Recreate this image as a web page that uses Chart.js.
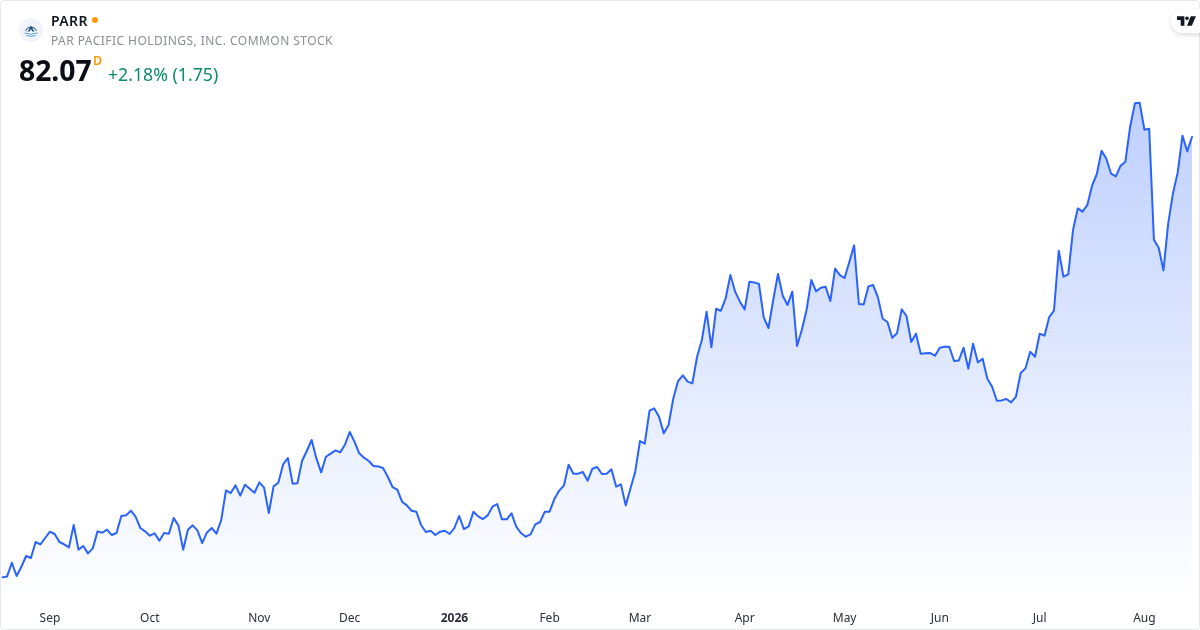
<!DOCTYPE html>
<html>
<head>
<meta charset="utf-8">
<title>PARR</title>
<script src="https://cdn.jsdelivr.net/npm/chart.js@4"></script>
<style>
    html, body { margin: 0; padding: 0; background: #fff; }
    body { width: 1200px; height: 630px; overflow: hidden; position: relative; font-family: "Noto Sans", sans-serif; }
    canvas { position: absolute; left: 0; top: 0; }
    .card { position: absolute; left: 0; top: 0; width: 1198px; height: 628px; border: 1px solid #e6e8ee; border-radius: 4px; }
    .txt { position: absolute; white-space: nowrap; line-height: 1; }
    #symbol { left: 51px; top: 14px; font-size: 14px; font-weight: 600; letter-spacing: 0.4px; color: #131722; }
    #name { left: 51px; top: 35px; font-size: 12px; letter-spacing: 0.45px; color: #8a8d96; }
    #price { left: 19px; top: 56px; font-size: 28.3px; font-weight: 700; color: #0c0e15; }
    #res { left: 93px; top: 55px; font-size: 12.5px; font-weight: 600; color: #ff9800; }
    #change { left: 108px; top: 66px; font-size: 17.7px; color: #0b8a6f; }
    .dot { position: absolute; left: 92px; top: 17px; width: 6px; height: 6px; border-radius: 50%; background: #ff9800; }
    .tv { position: absolute; left: 1171px; top: 9px; width: 40px; height: 24px; border-radius: 12px; background: #fff; box-shadow: 0 2px 5px rgba(0,0,0,0.14); }
</style>
</head>
<body>
<canvas id="priceChart" width="1200" height="630"></canvas>
<div class="card"></div>

<svg style="position:absolute;left:19px;top:18px" width="24" height="24" viewBox="0 0 24 24">
    <circle cx="12" cy="12" r="12" fill="#f0f3fa"/>
    <path d="M6.5 13 A5.8 5.8 0 0 1 17.5 13" fill="none" stroke="#1d4f7c" stroke-width="1"/>
    <path d="M12 7.5 L8.5 14 L10.8 13.2 L12 11 L13.2 13.2 L15.5 14 Z" fill="#1d4f7c"/>
    <path d="M5.5 15 Q12 17.5 18.5 15 M7.5 17.5 Q12 19.2 16.5 17.5" fill="none" stroke="#5aa5da" stroke-width="1"/>
</svg>
<div class="txt" id="symbol">PARR</div>
<div class="dot"></div>
<div class="txt" id="name">PAR PACIFIC HOLDINGS, INC. COMMON STOCK</div>
<div class="txt" id="price">82.07</div>
<div class="txt" id="res">D</div>
<div class="txt" id="change">+2.18% (1.75)</div>
<div class="tv">
    <svg style="position:absolute;left:6px;top:6.5px" width="19" height="11" viewBox="0 0 18 10">
        <path d="M0 0 H7 V9 H3.5 V3.5 H0 Z" fill="#131722"/>
        <circle cx="9.5" cy="2" r="1.7" fill="#131722"/>
        <path d="M13 0 H18 L14 9 H9.5 Z" fill="#131722"/>
    </svg>
</div>

<script>
const closes = [
    27.03, 27.15, 28.86, 27.20, 28.36, 29.70, 29.45, 31.45, 31.15, 31.95,
    32.74, 32.45, 31.45, 31.15, 30.78, 33.57, 30.49, 30.95, 30.03, 30.65,
    32.78, 32.61, 32.99, 32.32, 32.57, 34.70, 34.78, 35.36, 34.61, 33.20,
    32.78, 32.24, 32.53, 31.61, 32.57, 32.49, 34.45, 33.53, 30.49, 32.99,
    33.53, 32.90, 31.32, 32.65, 33.20, 32.49, 34.20, 37.90, 37.57, 38.53,
    37.24, 38.61, 38.11, 37.61, 38.90, 38.24, 35.07, 38.40, 38.86, 41.15,
    41.95, 38.74, 38.78, 41.61, 42.86, 44.20, 41.90, 40.15, 42.11, 42.49,
    42.90, 42.65, 43.61, 45.20, 43.99, 42.53, 41.99, 41.57, 40.95, 40.90,
    40.70, 39.61, 38.32, 37.99, 36.49, 36.03, 35.36, 35.24, 33.57, 32.70,
    32.86, 32.32, 32.74, 32.86, 32.45, 33.20, 34.70, 33.07, 33.40, 35.24,
    34.65, 34.32, 34.78, 35.86, 36.20, 34.28, 34.28, 35.03, 33.36, 32.57,
    32.11, 32.40, 33.65, 33.95, 35.24, 35.24, 36.82, 37.86, 38.49, 41.11,
    39.99, 39.99, 40.20, 39.11, 40.61, 40.82, 39.95, 39.99, 40.53, 38.36,
    38.65, 36.03, 38.15, 40.24, 44.07, 43.74, 47.86, 48.15, 47.11, 45.03,
    46.07, 49.40, 51.57, 52.28, 51.49, 51.28, 54.61, 56.70, 60.24, 55.78,
    60.61, 60.36, 61.90, 64.82, 62.74, 61.49, 60.53, 63.99, 63.90, 63.70,
    59.53, 58.20, 61.70, 64.95, 62.24, 61.07, 62.74, 55.95, 57.95, 60.45,
    64.20, 62.78, 63.24, 63.36, 61.57, 65.61, 64.82, 64.45, 66.49, 68.53,
    61.20, 61.15, 63.40, 63.57, 62.03, 59.36, 58.95, 56.99, 57.53, 60.53,
    59.70, 56.45, 57.49, 54.99, 55.03, 55.07, 54.74, 55.74, 55.86, 55.86,
    54.07, 54.15, 55.74, 53.11, 56.24, 53.90, 54.36, 51.86, 50.86, 49.11,
    49.15, 49.32, 48.90, 49.61, 52.57, 53.15, 55.24, 54.61, 57.49, 57.24,
    59.57, 60.36, 67.86, 64.61, 64.90, 70.45, 73.15, 72.74, 73.57, 75.99,
    77.45, 80.36, 79.36, 77.49, 77.15, 78.49, 78.99, 83.36, 86.28, 86.36,
    82.99, 83.11, 69.24, 68.24, 65.40, 71.28, 75.03, 77.65, 82.24, 80.28,
    82.07
];
const tickLabels = ['Sep', 'Oct', 'Nov', 'Dec', '2026', 'Feb', 'Mar', 'Apr', 'May', 'Jun', 'Jul', 'Aug'];
const tickBars = [10, 31, 54, 73, 95, 115, 134, 156, 177, 197, 218, 240];

const ctx = document.getElementById('priceChart');

new Chart(ctx, {
    type: 'line',
    data: {
        labels: closes.map((_, i) => i),
        datasets: [{
            data: closes,
            borderColor: '#2962ff',
            borderWidth: 2,
            borderJoinStyle: 'round',
            borderCapStyle: 'round',
            pointRadius: 0,
            tension: 0,
            fill: 'start',
            backgroundColor: (c) => {
                const area = c.chart.chartArea;
                if (!area) return 'transparent';
                const g = c.chart.ctx.createLinearGradient(0, 100, 0, area.bottom);
                g.addColorStop(0, 'rgba(41, 98, 255, 0.3)');
                g.addColorStop(1, 'rgba(41, 98, 255, 0)');
                return g;
            }
        }]
    },
    options: {
        responsive: false,
        animation: false,
        events: [],
        layout: { autoPadding: false, padding: { left: 2.33, right: 8, top: 90, bottom: 0 } },
        plugins: { legend: { display: false }, tooltip: { enabled: false } },
        scales: {
            x: {
                grid: { display: false, drawTicks: false },
                border: { display: false },
                afterFit: (scale) => {
                    scale.height = 30;
                    scale.paddingLeft = 0;
                    scale.paddingRight = 0;
                },
                ticks: {
                    autoSkip: false,
                    maxRotation: 0,
                    minRotation: 0,
                    padding: 11,
                    color: '#2a2e39',
                    font: (c) => ({
                        family: '"Noto Sans", sans-serif',
                        size: 12,
                        weight: c.tick && c.tick.label === '2026' ? '700' : '400'
                    }),
                    callback: (v, i) => {
                        const k = tickBars.indexOf(i);
                        return k < 0 ? '' : tickLabels[k];
                    }
                }
            },
            y: { display: false, min: 24.2, max: 87.95 }
        }
    }
});
</script>
</body>
</html>
